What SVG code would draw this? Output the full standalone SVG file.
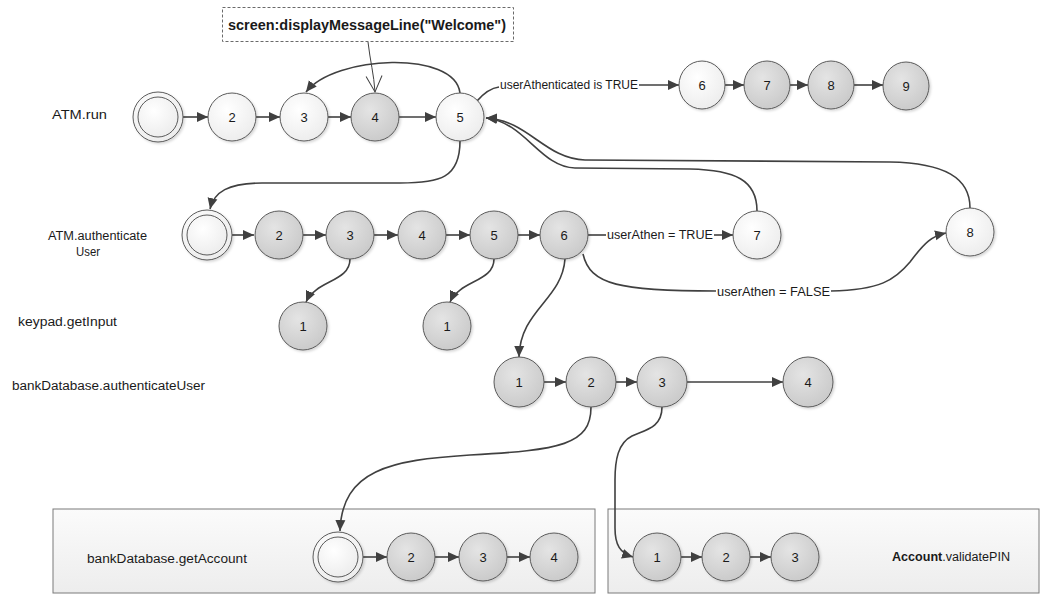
<svg xmlns="http://www.w3.org/2000/svg" width="1041" height="594" viewBox="0 0 1041 594">
  <style>
    text { font-family: "Liberation Sans", Arial, sans-serif; fill: #1a1a1a; }
    .lbl { font-size: 12.5px; }
    .num { font-size: 13px; text-anchor: middle; }
    .node { stroke: #5a5a5a; stroke-width: 1; filter: url(#shadow); }
    .w { fill: url(#gWhite); }
    .g { fill: url(#gGrey); }
    .inner { fill: url(#gWhite); stroke: #5a5a5a; stroke-width: 1; }
    .edge { fill: none; stroke: #404040; stroke-width: 1.6; }
    .arr { marker-end: url(#arrow); }
    .box { fill: url(#gBox); stroke: #7a7a7a; stroke-width: 1; }
  </style>
  <defs>
    <radialGradient id="gWhite" cx="40%" cy="35%" r="70%">
      <stop offset="0" stop-color="#ffffff"/>
      <stop offset="1" stop-color="#ececec"/>
    </radialGradient>
    <radialGradient id="gGrey" cx="40%" cy="35%" r="70%">
      <stop offset="0" stop-color="#e4e4e4"/>
      <stop offset="1" stop-color="#c9c9c9"/>
    </radialGradient>
    <linearGradient id="gBox" x1="0" y1="0" x2="0" y2="1">
      <stop offset="0" stop-color="#fbfbfb"/>
      <stop offset="1" stop-color="#ededed"/>
    </linearGradient>
    <filter id="shadow" x="-30%" y="-30%" width="170%" height="170%">
      <feDropShadow dx="1.5" dy="1.5" stdDeviation="1.2" flood-color="#000" flood-opacity="0.16"/>
    </filter>
    <marker id="arrow" markerUnits="userSpaceOnUse" markerWidth="12" markerHeight="12" viewBox="0 0 12 12" refX="11" refY="6" orient="auto">
      <path d="M0,1 L11,6 L0,11 z" fill="#404040"/>
    </marker>
    <marker id="openArrow" markerUnits="userSpaceOnUse" markerWidth="20" markerHeight="20" viewBox="0 0 20 20" refX="17" refY="10" orient="auto">
      <path d="M1,2 L17,10 L1,18" fill="none" stroke="#404040" stroke-width="1"/>
    </marker>
  </defs>

  <rect width="1041" height="594" fill="#ffffff"/>

  <!-- call frames -->
  <g id="frame-getAccount">
    <rect class="box" x="53" y="509" width="542" height="84"/>
    <text class="lbl" x="87" y="563" textLength="160" lengthAdjust="spacingAndGlyphs">bankDatabase.getAccount</text>
  </g>
  <g id="frame-validatePIN">
    <rect class="box" x="608" y="509" width="431" height="84"/>
    <text class="lbl" x="892" y="561" textLength="118" lengthAdjust="spacingAndGlyphs"><tspan font-weight="bold">Account</tspan>.validatePIN</text>
  </g>

  <!-- lane labels -->
  <g id="lane-labels">
    <text class="lbl" x="52" y="119" textLength="55" lengthAdjust="spacingAndGlyphs">ATM.run</text>
    <text class="lbl" x="48" y="240" textLength="99" lengthAdjust="spacingAndGlyphs">ATM.authenticate</text>
    <text class="lbl" x="76" y="256" textLength="24" lengthAdjust="spacingAndGlyphs">User</text>
    <text class="lbl" x="18" y="326" textLength="99" lengthAdjust="spacingAndGlyphs">keypad.getInput</text>
    <text class="lbl" x="12" y="390" textLength="193" lengthAdjust="spacingAndGlyphs">bankDatabase.authenticateUser</text>
  </g>

  <!-- note -->
  <g id="note-welcome">
    <rect x="222.5" y="7.5" width="291" height="34" fill="#ffffff" stroke="#6a6a6a" stroke-width="1" stroke-dasharray="3,2"/>
    <text x="367" y="30" font-size="14" font-weight="bold" text-anchor="middle" textLength="278" lengthAdjust="spacingAndGlyphs">screen:displayMessageLine("Welcome")</text>
  </g>

  <!-- connectors -->
  <g id="connectors">
    <!-- ATM.run -->
    <path class="edge arr" d="M183,117 L208,117"/>
    <path class="edge arr" d="M256,117 L280,117"/>
    <path class="edge arr" d="M328,117 L351,117"/>
    <path class="edge arr" d="M399,117 L436,117"/>
    <path class="edge arr" d="M460,93 C455,50 335,55 306,92"/>
    <path d="M368,42 C370,60 374,75 375,92" fill="none" stroke="#404040" stroke-width="1" marker-end="url(#openArrow)"/>
    <path class="edge" d="M477,101 C484,93 491,88 499,87"/>
    <text class="lbl" x="500" y="89" textLength="138" lengthAdjust="spacingAndGlyphs">userAthenticated is TRUE</text>
    <path class="edge arr" d="M639,85 L679,85"/>
    <path class="edge arr" d="M725,85 L744,85"/>
    <path class="edge arr" d="M790,85 L808,85"/>
    <path class="edge arr" d="M854,85 L883,85"/>
    <!-- returns into ATM.run step 5 -->
    <path class="edge arr" d="M757,211 C757,180 735,170 690,169 L575,168 C540,167 525,122 486,118"/>
    <path class="edge arr" d="M970,208 C970,178 945,163 890,162 L585,160 C545,159 528,120 486,118"/>
    <!-- call ATM.authenticateUser -->
    <path class="edge arr" d="M460,141 C460,178 440,183 400,183 L262,183 C228,183 214,192 210,209"/>
    <!-- ATM.authenticateUser -->
    <path class="edge arr" d="M232,235 L254,235"/>
    <path class="edge arr" d="M303,235 L326,235"/>
    <path class="edge arr" d="M374,235 L398,235"/>
    <path class="edge arr" d="M446,235 L470,235"/>
    <path class="edge arr" d="M518,235 L540,235"/>
    <path class="edge" d="M588,235 L606,235"/>
    <text class="lbl" x="607" y="239" textLength="106" lengthAdjust="spacingAndGlyphs">userAthen = TRUE</text>
    <path class="edge arr" d="M714,235 L733,235"/>
    <path class="edge" d="M583,254 C590,285 620,291 716,291"/>
    <text class="lbl" x="717" y="296" textLength="113" lengthAdjust="spacingAndGlyphs">userAthen = FALSE</text>
    <path class="edge arr" d="M831,291 C880,290 895,280 910,262 C925,242 932,236 946,233"/>
    <!-- keypad.getInput calls -->
    <path class="edge arr" d="M350,259 C350,282 316,280 306,302"/>
    <path class="edge arr" d="M494,259 C494,282 460,280 450,302"/>
    <!-- bankDatabase.authenticateUser call -->
    <path class="edge arr" d="M565,259 C562,300 520,310 519,357"/>
    <path class="edge arr" d="M544,382 L566,382"/>
    <path class="edge arr" d="M616,382 L637,382"/>
    <path class="edge arr" d="M687,382 L783,382"/>
    <!-- getAccount -->
    <path class="edge arr" d="M591,407 C591,445 560,450 470,455 C390,460 342,470 340,531"/>
    <path class="edge arr" d="M363,557 L387,557"/>
    <path class="edge arr" d="M435,557 L459,557"/>
    <path class="edge arr" d="M507,557 L530,557"/>
    <!-- validatePIN -->
    <path class="edge arr" d="M662,407 C662,428 645,430 632,436 C618,443 615,460 615,480 L615,528 C615,545 620,553 633,557"/>
    <path class="edge arr" d="M681,557 L702,557"/>
    <path class="edge arr" d="M750,557 L771,557"/>
  </g>

  <!-- ATM.run nodes -->
  <g id="run-start"><circle class="node w" cx="158" cy="117" r="25"/><circle class="inner" cx="158" cy="117" r="20"/></g>
  <g id="run-2"><circle class="node w" cx="232" cy="117" r="24"/><text class="num" x="232" y="122">2</text></g>
  <g id="run-3"><circle class="node w" cx="304" cy="117" r="24"/><text class="num" x="304" y="122">3</text></g>
  <g id="run-4"><circle class="node g" cx="375" cy="117" r="24"/><text class="num" x="375" y="122">4</text></g>
  <g id="run-5"><circle class="node w" cx="460" cy="117" r="24"/><text class="num" x="460" y="122">5</text></g>
  <g id="run-6"><ellipse class="node w" cx="702" cy="85" rx="23" ry="24"/><text class="num" x="702" y="90">6</text></g>
  <g id="run-7"><ellipse class="node g" cx="767" cy="85" rx="23" ry="24"/><text class="num" x="767" y="90">7</text></g>
  <g id="run-8"><ellipse class="node g" cx="831" cy="85" rx="23" ry="24"/><text class="num" x="831" y="90">8</text></g>
  <g id="run-9"><ellipse class="node g" cx="906" cy="86" rx="23" ry="24"/><text class="num" x="906" y="91">9</text></g>

  <!-- ATM.authenticateUser nodes -->
  <g id="auth-start"><circle class="node w" cx="207" cy="235" r="25"/><circle class="inner" cx="207" cy="235" r="20"/></g>
  <g id="auth-2"><circle class="node g" cx="279" cy="235" r="24"/><text class="num" x="279" y="240">2</text></g>
  <g id="auth-3"><circle class="node g" cx="350" cy="235" r="24"/><text class="num" x="350" y="240">3</text></g>
  <g id="auth-4"><circle class="node g" cx="422" cy="235" r="24"/><text class="num" x="422" y="240">4</text></g>
  <g id="auth-5"><circle class="node g" cx="494" cy="235" r="24"/><text class="num" x="494" y="240">5</text></g>
  <g id="auth-6"><circle class="node g" cx="564" cy="235" r="24"/><text class="num" x="564" y="240">6</text></g>
  <g id="auth-7"><circle class="node w" cx="757" cy="235" r="24"/><text class="num" x="757" y="240">7</text></g>
  <g id="auth-8"><circle class="node w" cx="970" cy="232" r="24"/><text class="num" x="970" y="237">8</text></g>

  <!-- keypad.getInput nodes -->
  <g id="keypad-a"><circle class="node g" cx="303" cy="326" r="24"/><text class="num" x="303" y="331">1</text></g>
  <g id="keypad-b"><circle class="node g" cx="447" cy="326" r="24"/><text class="num" x="447" y="331">1</text></g>

  <!-- bankDatabase.authenticateUser nodes -->
  <g id="bdb-1"><circle class="node g" cx="519" cy="382" r="25"/><text class="num" x="519" y="387">1</text></g>
  <g id="bdb-2"><circle class="node g" cx="591" cy="382" r="25"/><text class="num" x="591" y="387">2</text></g>
  <g id="bdb-3"><circle class="node g" cx="662" cy="382" r="25"/><text class="num" x="662" y="387">3</text></g>
  <g id="bdb-4"><circle class="node g" cx="808" cy="382" r="25"/><text class="num" x="808" y="387">4</text></g>

  <!-- bankDatabase.getAccount nodes -->
  <g id="ga-start"><circle class="node w" cx="338" cy="557" r="25"/><circle class="inner" cx="338" cy="557" r="20"/></g>
  <g id="ga-2"><circle class="node g" cx="411" cy="557" r="24"/><text class="num" x="411" y="562">2</text></g>
  <g id="ga-3"><circle class="node g" cx="483" cy="557" r="24"/><text class="num" x="483" y="562">3</text></g>
  <g id="ga-4"><circle class="node g" cx="554" cy="557" r="24"/><text class="num" x="554" y="562">4</text></g>

  <!-- Account.validatePIN nodes -->
  <g id="vp-1"><circle class="node g" cx="657" cy="557" r="24"/><text class="num" x="657" y="562">1</text></g>
  <g id="vp-2"><circle class="node g" cx="726" cy="557" r="24"/><text class="num" x="726" y="562">2</text></g>
  <g id="vp-3"><circle class="node g" cx="795" cy="557" r="24"/><text class="num" x="795" y="562">3</text></g>
</svg>
